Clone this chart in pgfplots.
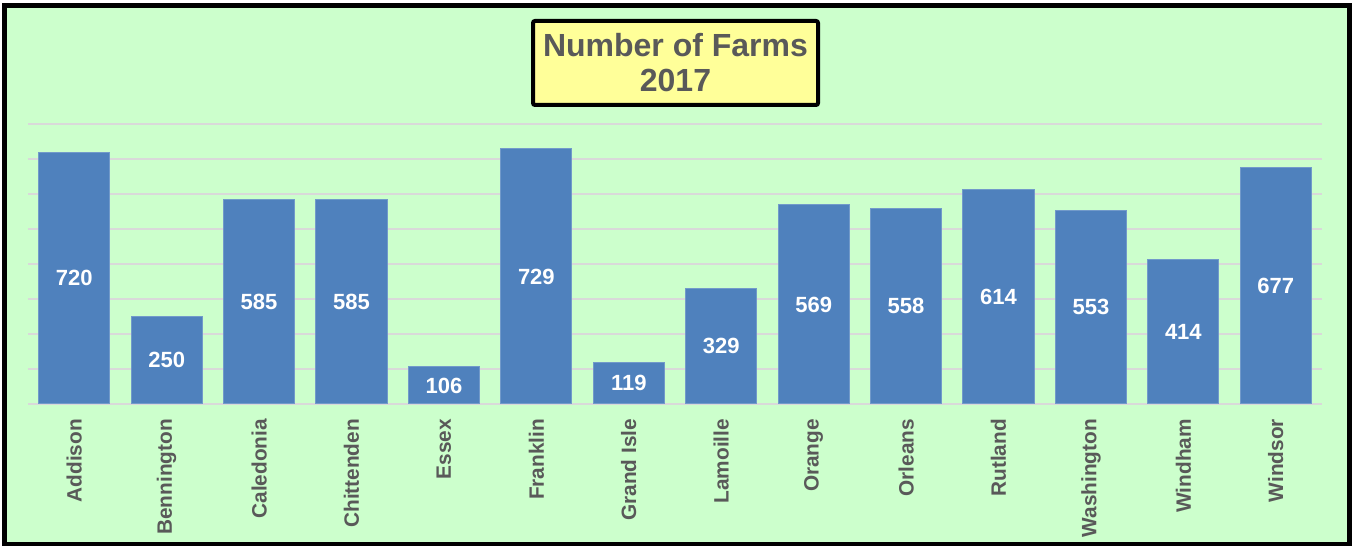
\documentclass[border=0pt]{standalone}
\usepackage{fontspec}
\setmainfont{Liberation Sans}
\usepackage{pgfplots}
\usepackage{pgfplotstable}
\pgfplotsset{compat=1.18}

\definecolor{bggreen}{HTML}{CCFFCC}
\definecolor{barblue}{HTML}{4F81BD}
\definecolor{gridgray}{HTML}{D9D9D9}
\definecolor{txtgray}{HTML}{595959}
\definecolor{titleyellow}{HTML}{FFFF99}

\pgfplotstableread{
x v
0 720
1 250
2 585
3 585
4 106
5 729
6 119
7 329
8 569
9 558
10 614
11 553
12 414
13 677
}\farms

\begin{document}
\begin{tikzpicture}
% page frame and background
\useasboundingbox (0,0) rectangle (678pt,273pt);
\draw[fill=bggreen, draw=black, line width=2.5pt] (2pt,0.75pt) rectangle (674.5pt,270.25pt);

\begin{axis}[
  at={(14pt,71pt)}, anchor=south west,
  scale only axis, width=647pt, height=140pt,
  xmin=-0.5, xmax=13.5, ymin=0, ymax=800,
  ytick={0,100,...,800}, yticklabels={},
  ymajorgrids, grid style={gridgray, line width=1pt},
  axis line style={draw=none}, tick style={draw=none},
  xtick={0,...,13},
  xticklabels={Addison,Bennington,Caledonia,Chittenden,Essex,Franklin,Grand Isle,
               Lamoille,Orange,Orleans,Rutland,Washington,Windham,Windsor},
  % shifts act in the rotated frame: xshift<0 moves the label down
  xticklabel style={rotate=90, anchor=east, xshift=-4pt,
                    font=\fontsize{10.4}{12}\selectfont\bfseries, text=txtgray},
  clip=false,
]
\addplot[ybar, bar width=0.77, bar shift=0pt, fill=barblue, draw=barblue!80!white, line width=0.5pt]
  table[x=x, y=v] {\farms};
% value labels in the middle of each bar
\addplot[draw=none, mark=none, nodes near coords, point meta=explicit symbolic,
  every node near coord/.style={anchor=center, text=white,
    font=\fontsize{11}{12}\selectfont\bfseries}]
  table[x=x, y expr=\thisrow{v}/2, meta=v] {\farms};
\end{axis}

% title box
\node[fill=titleyellow, draw=black, line width=2pt, rounded corners=1pt,
      minimum width=142.5pt, minimum height=42pt, inner sep=0pt,
      align=center, text=txtgray,
      font=\fontsize{16}{17.5}\selectfont\bfseries]
  at (337.75pt,241.5pt) {Number of Farms\\2017};
\end{tikzpicture}
\end{document}
